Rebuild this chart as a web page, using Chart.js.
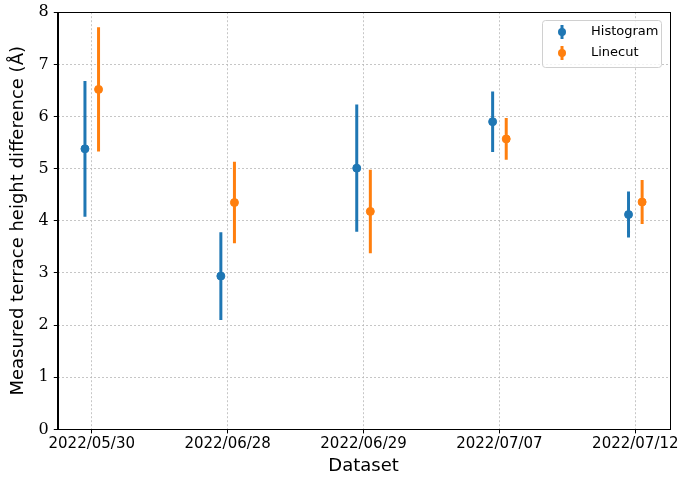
<!DOCTYPE html>
<html>
<head>
<meta charset="utf-8">
<script src="https://cdn.jsdelivr.net/npm/chart.js@4"></script>
<style>
  html, body { margin: 0; padding: 0; background: #fff; }
  #wrap { width: 681px; height: 481px; }
</style>
</head>
<body>
<div id="wrap"><canvas id="chart_err"></canvas></div>
<script>
// データ
var dataset_labels = ['2022/05/30', '2022/06/28', '2022/06/29', '2022/07/07', '2022/07/12']
var hist_value = [5.38, 2.94, 5.01, 5.90, 4.12]
var hist_err = [1.30, 0.84, 1.22, 0.58, 0.44]
var line_value = [6.52, 4.35, 4.18, 5.57, 4.36]
var line_err = [1.19, 0.78, 0.80, 0.40, 0.42]
var y_ticks = [0, 1, 2, 3, 4, 5, 6, 7, 8]
var series_names = ['Histogram', 'Linecut']

var BLUE = '#1f77b4'
var ORANGE = '#ff7f0e'
var SHIFT = 0.05

function points(values, shift) {
    return values.map((v, i) => ({ x: i + shift, y: v }))
}

// エラーバー用 (null で区切る)
function bars(values, errs, shift) {
    var out = []
    values.forEach((v, i) => {
        out.push({ x: i + shift, y: v - errs[i] })
        out.push({ x: i + shift, y: v + errs[i] })
        out.push({ x: i + shift, y: null })
    })
    return out
}

// 凡例 (グラフ内右上)
var legend_plugin = {
    id: 'errLegend',
    afterDraw(chart) {
        var a = chart.chartArea
        var ctx = chart.ctx
        var colors = [BLUE, ORANGE]
        var w = 119, h = 47
        var x0 = Math.round(a.right) - 8 - w, y0 = Math.round(a.top) + 8
        ctx.save()
        ctx.fillStyle = 'rgba(255,255,255,0.8)'
        ctx.strokeStyle = '#d0d0d0'
        ctx.lineWidth = 1
        ctx.beginPath()
        ctx.roundRect(x0 + 0.5, y0 + 0.5, w, h, 3)
        ctx.fill()
        ctx.stroke()
        series_names.forEach((name, i) => {
            var cy = y0 + 12 + i * 21
            var cx = x0 + 20
            ctx.strokeStyle = colors[i]
            ctx.lineWidth = 3
            ctx.beginPath()
            ctx.moveTo(cx, cy - 7)
            ctx.lineTo(cx, cy + 7)
            ctx.stroke()
            ctx.fillStyle = colors[i]
            ctx.beginPath()
            ctx.arc(cx, cy, 4, 0, Math.PI * 2)
            ctx.fill()
            ctx.fillStyle = '#000'
            ctx.font = '13px "DejaVu Sans"'
            ctx.textBaseline = 'middle'
            ctx.fillText(name, x0 + 49, cy)
        })
        ctx.restore()
    }
}

var frame_plugin = {
    id: 'frame',
    afterDatasetsDraw(chart) {
        var a = chart.chartArea
        var ctx = chart.ctx
        ctx.save()
        ctx.strokeStyle = '#000'
        ctx.lineWidth = 1
        ctx.strokeRect(Math.round(a.left) + 0.5, Math.round(a.top) + 0.5,
            Math.round(a.right - a.left), Math.round(a.bottom - a.top))
        ctx.restore()
    }
}

var grid_common = {
    color: '#b8b8b8',
    lineWidth: 0.8,
    tickColor: '#000',
    tickLength: 4,
    tickWidth: 1
}

new Chart(document.getElementById('chart_err'), {
    type: 'scatter',
    data: {
        datasets: [
            {
                label: series_names[0],
                data: points(hist_value, -SHIFT),
                backgroundColor: BLUE,
                borderColor: BLUE,
                pointRadius: 4,
                pointHoverRadius: 4,
                order: 2
            },
            {
                label: series_names[1],
                data: points(line_value, SHIFT),
                backgroundColor: ORANGE,
                borderColor: ORANGE,
                pointRadius: 4,
                pointHoverRadius: 4,
                order: 0
            },
            {
                label: 'hist_err',
                type: 'line',
                data: bars(hist_value, hist_err, -SHIFT),
                borderColor: BLUE,
                borderWidth: 3,
                pointRadius: 0,
                spanGaps: false,
                order: 3
            },
            {
                label: 'line_err',
                type: 'line',
                data: bars(line_value, line_err, SHIFT),
                borderColor: ORANGE,
                borderWidth: 3,
                pointRadius: 0,
                spanGaps: false,
                order: 1
            }
        ]
    },
    options: {
        responsive: true,
        maintainAspectRatio: false,
        animation: false,
        layout: {
            padding: { top: 2, right: 8, left: 8, bottom: 4 }
        },
        scales: {
            x: {
                type: 'linear',
                min: -0.25,
                max: 4.25,
                afterBuildTicks: (axis) => {
                    axis.ticks = dataset_labels.map((_, i) => ({ value: i }))
                },
                grid: grid_common,
                border: { display: true, color: '#000', dash: [2, 2] },
                ticks: {
                    color: '#000',
                    padding: 2,
                    maxRotation: 0,
                    autoSkip: false,
                    font: { family: 'DejaVu Sans', size: 15 },
                    callback: function (value) {
                        return dataset_labels[value]
                    }
                },
                title: {
                    display: true,
                    text: 'Dataset',
                    color: '#000',
                    padding: { top: 0, bottom: 0 },
                    font: { family: 'DejaVu Sans', size: 18 }
                }
            },
            y: {
                min: 0,
                max: 8,
                afterBuildTicks: (axis) => {
                    axis.ticks = y_ticks.map((v) => ({ value: v }))
                },
                grid: grid_common,
                border: { display: true, color: '#000', dash: [2, 2] },
                ticks: {
                    color: '#000',
                    padding: 5,
                    font: { family: 'DejaVu Serif', size: 16, lineHeight: 0.9 }
                },
                title: {
                    display: true,
                    text: 'Measured terrace height difference (Å)',
                    color: '#000',
                    padding: { top: 0, bottom: 4 },
                    font: { family: 'DejaVu Sans', size: 18 }
                }
            }
        },
        plugins: {
            legend: { display: false },
            tooltip: { enabled: false }
        }
    },
    plugins: [frame_plugin, legend_plugin]
})
</script>
</body>
</html>
